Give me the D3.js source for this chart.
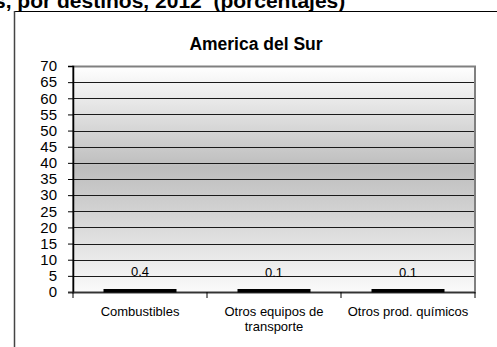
<!DOCTYPE html>
<html><head><meta charset="utf-8">
<script src="https://cdn.jsdelivr.net/npm/d3@7"></script>
<style>body{margin:0;background:#fff;}svg{display:block;font-family:"Liberation Sans",Arial,sans-serif;}</style>
</head><body>
<svg id="c" width="497" height="347"></svg>
<script>
const categories = ["Combustibles", "Otros equipos de transporte", "Otros prod. químicos"];
const categoryLines = [["Combustibles"], ["Otros equipos de", "transporte"], ["Otros prod. químicos"]];
const values = [0.4, 0.1, 0.1];
const valueLabels = ["0.4", "0.1", "0.1"];
const yTicks = [0,5,10,15,20,25,30,35,40,45,50,55,60,65,70];
const chartTitle = "America del Sur";
const pageTitle = "s, por destinos, 2012  (porcentajes)";

const svg = d3.select("#c");
const L = 73, R = 475, T = 66, B = 292;

// page title (clipped at top)
svg.append("text").attr("x", -6).attr("y", 8).attr("font-size", 21).attr("font-weight", "bold")
  .style("white-space","pre").text(pageTitle);

// frame
svg.append("line").attr("x1",14.5).attr("x2",497).attr("y1",11.5).attr("y2",11.5).attr("stroke","#000").attr("stroke-width",1);
svg.append("line").attr("x1",14.5).attr("x2",14.5).attr("y1",11).attr("y2",347).attr("stroke","#444").attr("stroke-width",1.5);

svg.append("text").attr("x", 256).attr("y", 50).attr("text-anchor","middle").attr("font-size",17.5).attr("font-weight","bold").text(chartTitle);

const x = d3.scaleBand().domain(categories).range([L, R]).paddingInner(0).paddingOuter(0);
const y = d3.scaleLinear().domain([0,70]).range([B, T]);

const defs = svg.append("defs");
const g = defs.append("linearGradient").attr("id","bg").attr("x1",0).attr("x2",0).attr("y1",0).attr("y2",1);
g.append("stop").attr("offset","0%").attr("stop-color","#ffffff");
g.append("stop").attr("offset","45%").attr("stop-color","#bdbdbd");
g.append("stop").attr("offset","100%").attr("stop-color","#fafafa");
svg.append("rect").attr("x",L).attr("y",T).attr("width",R-L).attr("height",B-T).attr("fill","url(#bg)");

// gridlines
svg.append("g").selectAll("line").data(yTicks.filter(d=>d>0 && d<70)).join("line")
  .attr("x1",L).attr("x2",R).attr("y1",d=>Math.round(y(d))+0.5).attr("y2",d=>Math.round(y(d))+0.5)
  .attr("stroke","#1a1a1a").attr("stroke-width",1);

// plot border
svg.append("rect").attr("x",L).attr("y",T+0.5).attr("width",R-L).attr("height",B-T)
  .attr("fill","none").attr("stroke","#808080").attr("stroke-width",2);

// y axis
const ya = svg.append("g").attr("transform",`translate(${L},0)`)
  .call(d3.axisLeft(y).tickValues(yTicks).tickSize(5).tickPadding(11).tickFormat(d3.format("d")));
ya.select(".domain").attr("stroke","#000").attr("stroke-width",1.5);
ya.selectAll(".tick line").attr("stroke","#000");
ya.selectAll("text").attr("font-size",15).attr("font-family","Liberation Sans, Arial").attr("fill","#000");

// x axis
const xa = svg.append("g").attr("transform",`translate(0,${B})`);
xa.append("line").attr("x1",L-5).attr("x2",R).attr("y1",0.5).attr("y2",0.5).attr("stroke","#333").attr("stroke-width",1.5);
const bounds = [L].concat(categories.map(c => x(c) + x.bandwidth()));
xa.selectAll("line.t").data(bounds).join("line").attr("class","t")
  .attr("x1",d=>d).attr("x2",d=>d).attr("y1",0).attr("y2",6).attr("stroke","#000");
xa.selectAll("text.cat").data(categories).join("text").attr("class","cat")
  .attr("text-anchor","middle").attr("font-size",13).attr("fill","#000")
  .attr("transform", c => `translate(${x(c)+x.bandwidth()/2},24)`)
  .each(function(c,i){
    const t = d3.select(this);
    categoryLines[i].forEach((ln,k)=>t.append("tspan").attr("x",0).attr("y",k*15).text(ln));
  });

// bars
const bw = 72;
svg.append("g").selectAll("rect").data(values).join("rect")
  .attr("x",(d,i)=>x(categories[i])+x.bandwidth()/2-bw/2)
  .attr("width",bw)
  .attr("y",d=>Math.min(y(d), B-2.5))
  .attr("height",d=>Math.max(B - y(d), 2.5))
  .attr("fill","#000").attr("stroke","#000").attr("stroke-width",1);

// labels
svg.append("g").selectAll("text").data(values).join("text")
  .attr("x",(d,i)=>x(categories[i])+x.bandwidth()/2)
  .attr("y",d=>y(d)-15)
  .attr("text-anchor","middle").attr("font-size",13).attr("fill","#000")
  .text((d,i)=>valueLabels[i]);
</script>
</body></html>
